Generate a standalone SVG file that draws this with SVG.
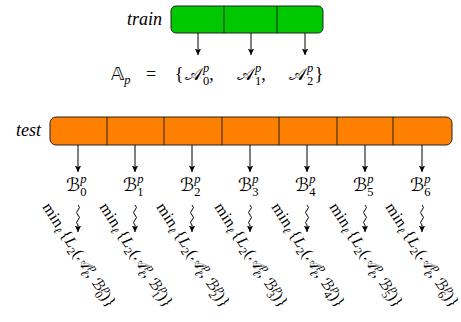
<svg xmlns="http://www.w3.org/2000/svg" width="461" height="322" viewBox="0 0 461 322">
  <style>
    .lbl { font-family: "Liberation Serif", "DejaVu Serif", serif; font-style: italic; font-size: 18px; fill: #000; }
    .m { font-family: "Liberation Serif", "DejaVu Serif", serif; font-size: 18px; fill: #000; }
    .it { font-style: italic; }
    .cal { font-family: "DejaVu Serif", "DejaVu Sans", serif; font-style: normal; font-size: 18px; }
    .ds { font-family: "DejaVu Sans", "DejaVu Serif", sans-serif; }
    .sc { font-size: 12.5px; }
    .r { font-family: "Liberation Serif", "DejaVu Serif", serif; font-size: 16px; letter-spacing: 0.3px; fill: #000; }
    .r .sc { font-size: 11.5px; }
    .r .cal { font-size: 15px; }
    .bar-green { fill: #00c800; stroke: #222; stroke-width: 1; }
    .bar-orange { fill: #ff8000; stroke: #222; stroke-width: 1; }
    .div { stroke: #222; stroke-width: 1; }
    .arr { fill: none; stroke: #000; stroke-width: 1; marker-end: url(#ah); }
  </style>
  <defs>
    <marker id="ah" markerWidth="8" markerHeight="8" refX="6.5" refY="4" orient="auto" markerUnits="userSpaceOnUse">
      <path d="M0,0.8 L6.5,4 L0,7.2 L1.5,4 Z" fill="#000"/>
    </marker>
  </defs>
  <rect width="461" height="322" fill="#fff"/>

  <!-- training bar, three blocks -->
  <g id="train">
    <text class="lbl" x="127" y="25">train</text>
    <rect class="bar-green" x="171" y="6" width="152" height="27" rx="5"/>
    <line class="div" x1="224" y1="6" x2="224" y2="33"/>
    <line class="div" x1="277" y1="6" x2="277" y2="33"/>
  </g>

  <!-- set of training blocks -->
  <g id="setA">
    <text class="m" x="111" y="80"><tspan class="ds">𝔸</tspan><tspan class="sc it" dy="4">p</tspan></text>
    <text class="m" x="151" y="80" text-anchor="middle">=</text>
    <text class="m" x="179" y="80" text-anchor="middle">{</text>
    <text class="m" x="185" y="80"><tspan class="cal">𝒜</tspan><tspan class="sc it" dx="1" dy="-8">p</tspan><tspan class="sc" dx="-6.2" dy="13">0</tspan><tspan dy="-5">,</tspan></text>
    <text class="m" x="237" y="80"><tspan class="cal">𝒜</tspan><tspan class="sc it" dx="1" dy="-8">p</tspan><tspan class="sc" dx="-6.2" dy="13">1</tspan><tspan dy="-5">,</tspan></text>
    <text class="m" x="289" y="80"><tspan class="cal">𝒜</tspan><tspan class="sc it" dx="1" dy="-8">p</tspan><tspan class="sc" dx="-6.2" dy="13">2</tspan></text>
    <text class="m" x="319" y="80" text-anchor="middle">}</text>
  </g>

  <!-- test bar, seven blocks -->
  <g id="test">
    <text class="lbl" x="16" y="136">test</text>
    <rect class="bar-orange" x="50" y="117" width="402" height="28" rx="6"/>
    <line class="div" x1="107" y1="117" x2="107" y2="145"/>
    <line class="div" x1="164" y1="117" x2="164" y2="145"/>
    <line class="div" x1="222" y1="117" x2="222" y2="145"/>
    <line class="div" x1="279" y1="117" x2="279" y2="145"/>
    <line class="div" x1="337" y1="117" x2="337" y2="145"/>
    <line class="div" x1="393" y1="117" x2="393" y2="145"/>
  </g>

  <!-- test blocks B_i -->
  <g id="B0"><text class="m" x="66" y="191"><tspan class="cal">ℬ</tspan><tspan class="sc it" dy="-8">p</tspan><tspan class="sc" dx="-6.2" dy="13">0</tspan></text></g>
  <g id="B1"><text class="m" x="123" y="191"><tspan class="cal">ℬ</tspan><tspan class="sc it" dy="-8">p</tspan><tspan class="sc" dx="-6.2" dy="13">1</tspan></text></g>
  <g id="B2"><text class="m" x="180" y="191"><tspan class="cal">ℬ</tspan><tspan class="sc it" dy="-8">p</tspan><tspan class="sc" dx="-6.2" dy="13">2</tspan></text></g>
  <g id="B3"><text class="m" x="238" y="191"><tspan class="cal">ℬ</tspan><tspan class="sc it" dy="-8">p</tspan><tspan class="sc" dx="-6.2" dy="13">3</tspan></text></g>
  <g id="B4"><text class="m" x="295" y="191"><tspan class="cal">ℬ</tspan><tspan class="sc it" dy="-8">p</tspan><tspan class="sc" dx="-6.2" dy="13">4</tspan></text></g>
  <g id="B5"><text class="m" x="353" y="191"><tspan class="cal">ℬ</tspan><tspan class="sc it" dy="-8">p</tspan><tspan class="sc" dx="-6.2" dy="13">5</tspan></text></g>
  <g id="B6"><text class="m" x="410" y="191"><tspan class="cal">ℬ</tspan><tspan class="sc it" dy="-8">p</tspan><tspan class="sc" dx="-6.2" dy="13">6</tspan></text></g>

  <!-- minimum distance for each test block -->
  <g id="min0" transform="translate(42,207) rotate(57)"><text class="r">min<tspan class="sc it" dy="3.5">ℓ</tspan><tspan dx="2" dy="-3.5">{</tspan><tspan class="it">L</tspan><tspan class="sc" dy="3.5">2</tspan><tspan dy="-3.5">(</tspan><tspan class="cal">𝒜</tspan><tspan class="sc it" dx="0.5" dy="-6.5">p</tspan><tspan class="sc it" dx="-6.5" dy="10.5">ℓ</tspan><tspan dy="-4">, </tspan><tspan class="cal">ℬ</tspan><tspan class="sc it" dy="-6.5">p</tspan><tspan class="sc" dx="-6.5" dy="10.5">0</tspan><tspan dy="-4">)}</tspan></text></g>
  <g id="min1" transform="translate(99,207) rotate(57)"><text class="r">min<tspan class="sc it" dy="3.5">ℓ</tspan><tspan dx="2" dy="-3.5">{</tspan><tspan class="it">L</tspan><tspan class="sc" dy="3.5">2</tspan><tspan dy="-3.5">(</tspan><tspan class="cal">𝒜</tspan><tspan class="sc it" dx="0.5" dy="-6.5">p</tspan><tspan class="sc it" dx="-6.5" dy="10.5">ℓ</tspan><tspan dy="-4">, </tspan><tspan class="cal">ℬ</tspan><tspan class="sc it" dy="-6.5">p</tspan><tspan class="sc" dx="-6.5" dy="10.5">1</tspan><tspan dy="-4">)}</tspan></text></g>
  <g id="min2" transform="translate(156,207) rotate(57)"><text class="r">min<tspan class="sc it" dy="3.5">ℓ</tspan><tspan dx="2" dy="-3.5">{</tspan><tspan class="it">L</tspan><tspan class="sc" dy="3.5">2</tspan><tspan dy="-3.5">(</tspan><tspan class="cal">𝒜</tspan><tspan class="sc it" dx="0.5" dy="-6.5">p</tspan><tspan class="sc it" dx="-6.5" dy="10.5">ℓ</tspan><tspan dy="-4">, </tspan><tspan class="cal">ℬ</tspan><tspan class="sc it" dy="-6.5">p</tspan><tspan class="sc" dx="-6.5" dy="10.5">2</tspan><tspan dy="-4">)}</tspan></text></g>
  <g id="min3" transform="translate(214,207) rotate(57)"><text class="r">min<tspan class="sc it" dy="3.5">ℓ</tspan><tspan dx="2" dy="-3.5">{</tspan><tspan class="it">L</tspan><tspan class="sc" dy="3.5">2</tspan><tspan dy="-3.5">(</tspan><tspan class="cal">𝒜</tspan><tspan class="sc it" dx="0.5" dy="-6.5">p</tspan><tspan class="sc it" dx="-6.5" dy="10.5">ℓ</tspan><tspan dy="-4">, </tspan><tspan class="cal">ℬ</tspan><tspan class="sc it" dy="-6.5">p</tspan><tspan class="sc" dx="-6.5" dy="10.5">3</tspan><tspan dy="-4">)}</tspan></text></g>
  <g id="min4" transform="translate(271,207) rotate(57)"><text class="r">min<tspan class="sc it" dy="3.5">ℓ</tspan><tspan dx="2" dy="-3.5">{</tspan><tspan class="it">L</tspan><tspan class="sc" dy="3.5">2</tspan><tspan dy="-3.5">(</tspan><tspan class="cal">𝒜</tspan><tspan class="sc it" dx="0.5" dy="-6.5">p</tspan><tspan class="sc it" dx="-6.5" dy="10.5">ℓ</tspan><tspan dy="-4">, </tspan><tspan class="cal">ℬ</tspan><tspan class="sc it" dy="-6.5">p</tspan><tspan class="sc" dx="-6.5" dy="10.5">4</tspan><tspan dy="-4">)}</tspan></text></g>
  <g id="min5" transform="translate(329,207) rotate(57)"><text class="r">min<tspan class="sc it" dy="3.5">ℓ</tspan><tspan dx="2" dy="-3.5">{</tspan><tspan class="it">L</tspan><tspan class="sc" dy="3.5">2</tspan><tspan dy="-3.5">(</tspan><tspan class="cal">𝒜</tspan><tspan class="sc it" dx="0.5" dy="-6.5">p</tspan><tspan class="sc it" dx="-6.5" dy="10.5">ℓ</tspan><tspan dy="-4">, </tspan><tspan class="cal">ℬ</tspan><tspan class="sc it" dy="-6.5">p</tspan><tspan class="sc" dx="-6.5" dy="10.5">5</tspan><tspan dy="-4">)}</tspan></text></g>
  <g id="min6" transform="translate(385,207) rotate(57)"><text class="r">min<tspan class="sc it" dy="3.5">ℓ</tspan><tspan dx="2" dy="-3.5">{</tspan><tspan class="it">L</tspan><tspan class="sc" dy="3.5">2</tspan><tspan dy="-3.5">(</tspan><tspan class="cal">𝒜</tspan><tspan class="sc it" dx="0.5" dy="-6.5">p</tspan><tspan class="sc it" dx="-6.5" dy="10.5">ℓ</tspan><tspan dy="-4">, </tspan><tspan class="cal">ℬ</tspan><tspan class="sc it" dy="-6.5">p</tspan><tspan class="sc" dx="-6.5" dy="10.5">6</tspan><tspan dy="-4">)}</tspan></text></g>

  <!-- connectors -->
  <g id="connectors">
    <path class="arr" d="M198,33 V55"/>
    <path class="arr" d="M251,33 V55"/>
    <path class="arr" d="M305,33 V55"/>

    <path class="arr" d="M78,145 V172"/>
    <path class="arr" d="M135,145 V172"/>
    <path class="arr" d="M192,145 V172"/>
    <path class="arr" d="M250,145 V172"/>
    <path class="arr" d="M307,145 V172"/>
    <path class="arr" d="M365,145 V172"/>
    <path class="arr" d="M422,145 V172"/>

    <path class="arr" d="M78,205 q3,2.5 0,5 t0,5 t0,5 t0,5 L78,232"/>
    <path class="arr" d="M135,205 q3,2.5 0,5 t0,5 t0,5 t0,5 L135,232"/>
    <path class="arr" d="M192,205 q3,2.5 0,5 t0,5 t0,5 t0,5 L192,232"/>
    <path class="arr" d="M250,205 q3,2.5 0,5 t0,5 t0,5 t0,5 L250,232"/>
    <path class="arr" d="M307,205 q3,2.5 0,5 t0,5 t0,5 t0,5 L307,232"/>
    <path class="arr" d="M365,205 q3,2.5 0,5 t0,5 t0,5 t0,5 L365,232"/>
    <path class="arr" d="M422,205 q3,2.5 0,5 t0,5 t0,5 t0,5 L422,232"/>
  </g>
</svg>
